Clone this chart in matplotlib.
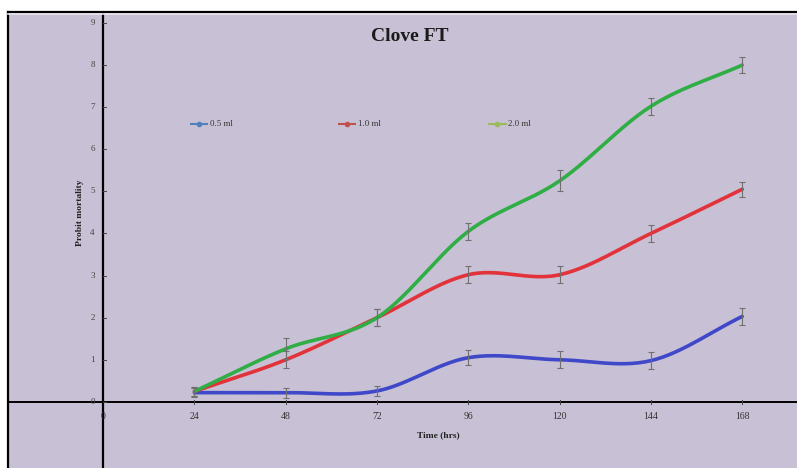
import numpy as np
import matplotlib
matplotlib.use('Agg')
import matplotlib.pyplot as plt
from matplotlib.lines import Line2D

hours = [24, 48, 72, 96, 120, 144, 168]
dose_05 = [0.22, 0.22, 0.26, 1.05, 1.00, 0.98, 2.03]
dose_10 = [0.25, 1.00, 2.00, 3.02, 3.02, 4.00, 5.05]
dose_20 = [0.25, 1.26, 2.00, 4.05, 5.25, 7.02, 8.00]
err_05 = [0.1, 0.12, 0.12, 0.18, 0.2, 0.2, 0.2]
err_10 = [0.1, 0.2, 0.2, 0.2, 0.2, 0.2, 0.18]
err_20 = [0.1, 0.25, 0.2, 0.2, 0.25, 0.2, 0.2]
labels = ['0.5 ml', '1.0 ml', '2.0 ml']

plt.rcParams['font.family'] = ['Liberation Serif', 'DejaVu Serif']


def smooth(x, y, n=30):
    # catmull-rom curve through the points, like a spreadsheet "smoothed line"
    x = np.asarray(x, float); y = np.asarray(y, float)
    px = np.concatenate([[2 * x[0] - x[1]], x, [2 * x[-1] - x[-2]]])
    py = np.concatenate([[2 * y[0] - y[1]], y, [2 * y[-1] - y[-2]]])
    xs, ys = [], []
    t = np.linspace(0, 1, n)
    for i in range(1, len(px) - 2):
        for p, out in ((px, xs), (py, ys)):
            p0, p1, p2, p3 = p[i - 1], p[i], p[i + 1], p[i + 2]
            out.append(0.5 * (2 * p1 + (-p0 + p2) * t
                              + (2 * p0 - 5 * p1 + 4 * p2 - p3) * t ** 2
                              + (-p0 + 3 * p1 - 3 * p2 + p3) * t ** 3))
    return np.concatenate(xs), np.concatenate(ys)


W, H = 797, 468
fig = plt.figure(figsize=(W / 100, H / 100), dpi=100)
fig.patch.set_facecolor('white')
ax = fig.add_axes([8 / W, 0, 1 - 8 / W, 1 - 12 / H])
ax.set_facecolor('#c8c0d4')

ax.set_xlim(-25, 182.4)
ax.set_ylim(-1.57, 9.26)

line_cols = ['#3f48c8', '#e2323a', '#2fae45']
leg_cols = ['#4f81bd', '#c0504d', '#9bbb59']
for ys, es, c in zip([dose_05, dose_10, dose_20], [err_05, err_10, err_20], line_cols):
    sx, sy = smooth(hours, ys)
    ax.plot(sx, sy, color=c, lw=2.6, solid_capstyle='round', zorder=3)
    ax.errorbar(hours, ys, yerr=es, fmt='none', ecolor='#707070',
                elinewidth=0.8, capsize=2.5, capthick=0.8, zorder=4)

# axes crossing at the origin
for s in ['right', 'bottom']:
    ax.spines[s].set_visible(False)
ax.spines['left'].set_linewidth(1.6)
ax.spines['top'].set_linewidth(1.6)
ax.axhline(0, color='black', lw=1.4, zorder=2)
ax.axvline(0, color='black', lw=1.6, zorder=2)

ax.set_xticks([])
ax.set_yticks([])
for v in range(10):
    ax.text(-2.2, v, str(v), ha='right', va='center', fontsize=6.5, color='#444444')
    ax.plot([0, 0.8], [v, v], color='#444444', lw=0.7)
for v in [0] + hours:
    ax.text(v, -0.34, str(v), ha='center', va='center', fontsize=7, color='#333333')
    if v:
        ax.plot([v, v], [-0.05, 0.05], color='#444444', lw=0.7)

ax.text(-6, 4.5, 'Probit mortality', rotation=90, ha='center', va='center',
        fontsize=6.8, fontweight='bold', color='#222222')
ax.text(88, -0.8, 'Time (hrs)', ha='center', va='center',
        fontsize=6.8, fontweight='bold', color='#222222')
ax.text(80.5, 8.68, 'Clove FT', ha='center', va='center',
        fontsize=14, fontweight='bold', color='#1a1a1a')

# legend entries laid out across the top
for lx, c, lab in zip([23, 62, 101.5], leg_cols, labels):
    ax.plot([lx, lx + 4.3], [6.6, 6.6], color=c, lw=1.5, zorder=5)
    ax.plot(lx + 2.15, 6.6, 'o', color=c, ms=3, zorder=5)
    ax.text(lx + 5, 6.6, lab, ha='left', va='center', fontsize=6.3, color='#333333')

fig.add_artist(Line2D([8 / W, 1], [1 - 14 / H, 1 - 14 / H], color='#e8e4ee', lw=1.2))

fig.savefig('out.png', dpi=100)
